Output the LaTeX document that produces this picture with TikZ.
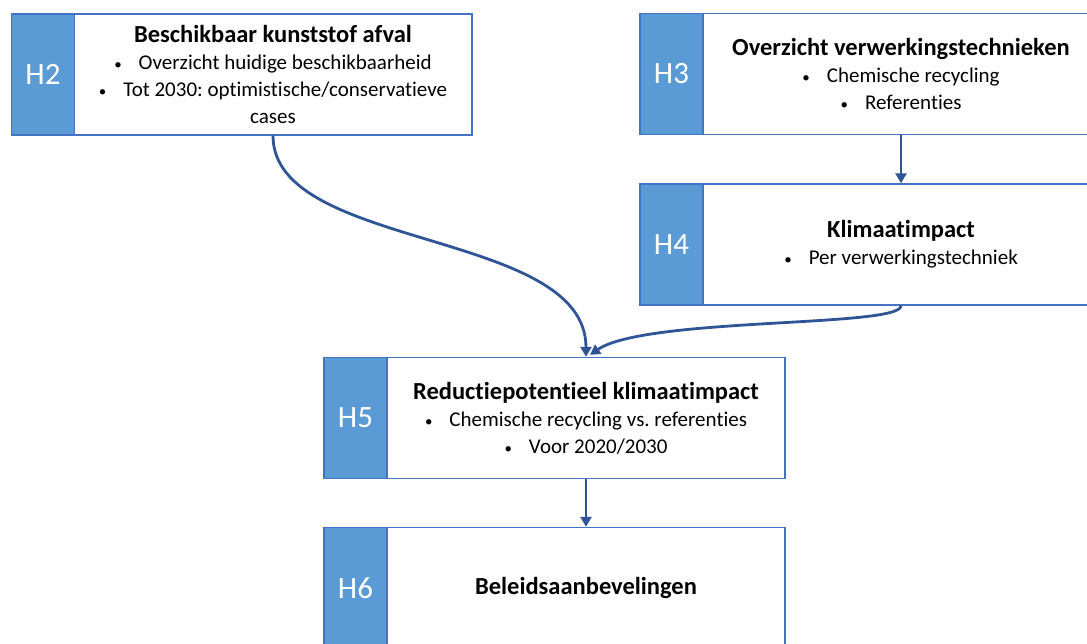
\documentclass[tikz,border=0pt]{standalone}
\usepackage{fontspec}
\setmainfont[Ligatures={NoCommon}]{Carlito}
\usetikzlibrary{arrows.meta,calc}
\definecolor{tagblue}{HTML}{5B9BD5}
\definecolor{edgeblue}{HTML}{4472C4}
\definecolor{arrowblue}{HTML}{2F5597}
\newcommand{\bul}{{\fontsize{15}{15}\selectfont\textbullet}\hspace{17pt}}
\newcommand{\ttlfont}{\fontsize{24.5}{28}\selectfont\bfseries}
\frenchspacing
\begin{document}
\begin{tikzpicture}[x=1pt,y=-1pt,
  tagbox/.style={draw=edgeblue, line width=1.4pt, fill=tagblue, minimum width=63pt, minimum height=121pt, inner sep=0pt, text=white, font=\fontsize{31}{34}\selectfont},
  mainbox/.style={draw=edgeblue, line width=1.4pt, fill=white, minimum height=121pt, inner sep=0pt, align=center, font=\fontsize{21}{27}\selectfont},
  conn/.style={draw=arrowblue, line width=2.8pt, -{Triangle[length=10pt,width=11pt]}}
]
\useasboundingbox (0,0) rectangle (1087,644);
\clip (0,0) rectangle (1087,644);
\fill[white] (0,0) rectangle (1087,644);

% H2
\node[mainbox, minimum width=398pt] (h2) at (273,74.5) {{\ttlfont Beschikbaar kunststof afval}\\ \bul Overzicht huidige beschikbaarheid\\ \bul Tot 2030: optimistische/conservatieve\\ cases};
\node[tagbox] (h2t) at (43,74.5) {H2};

% H3
\node[mainbox, minimum width=396pt] (h3) at (901,74) {{\ttlfont Overzicht verwerkingstechnieken}\\ \bul Chemische recycling\\ \bul Referenties};
\node[tagbox] (h3t) at (671.5,74) {H3};

% H4
\node[mainbox, minimum width=396pt] (h4) at (901,244.5) {{\ttlfont Klimaatimpact}\\ \bul Per verwerkingstechniek};
\node[tagbox] (h4t) at (671.5,244.5) {H4};

% H5
\node[mainbox, minimum width=398pt] (h5) at (586,418) {{\ttlfont Reductiepotentieel klimaatimpact}\\ \bul Chemische recycling vs. referenties\\ \bul Voor 2020/2030};
\node[tagbox] (h5t) at (355.5,418) {H5};

% H6
\node[mainbox, minimum width=398pt] (h6) at (586,588) {{\ttlfont Beleidsaanbevelingen}};
\node[tagbox] (h6t) at (355.5,588) {H6};

% connectors
\draw[conn] (h3.south) -- (h4.north);
\draw[conn] (h5.south) -- (h6.north);
\draw[conn] (h2.south) .. controls ($(h2.south)+(0,115)$) and ($(h5.north)+(0,-128)$) .. (h5.north);
\draw[conn] (h4.south) .. controls ($(h4.south)+(0,22)$) and ($(h5.north)+(60,-40)$) .. ($(h5.north)+(4,-2)$);
\end{tikzpicture}
\end{document}
